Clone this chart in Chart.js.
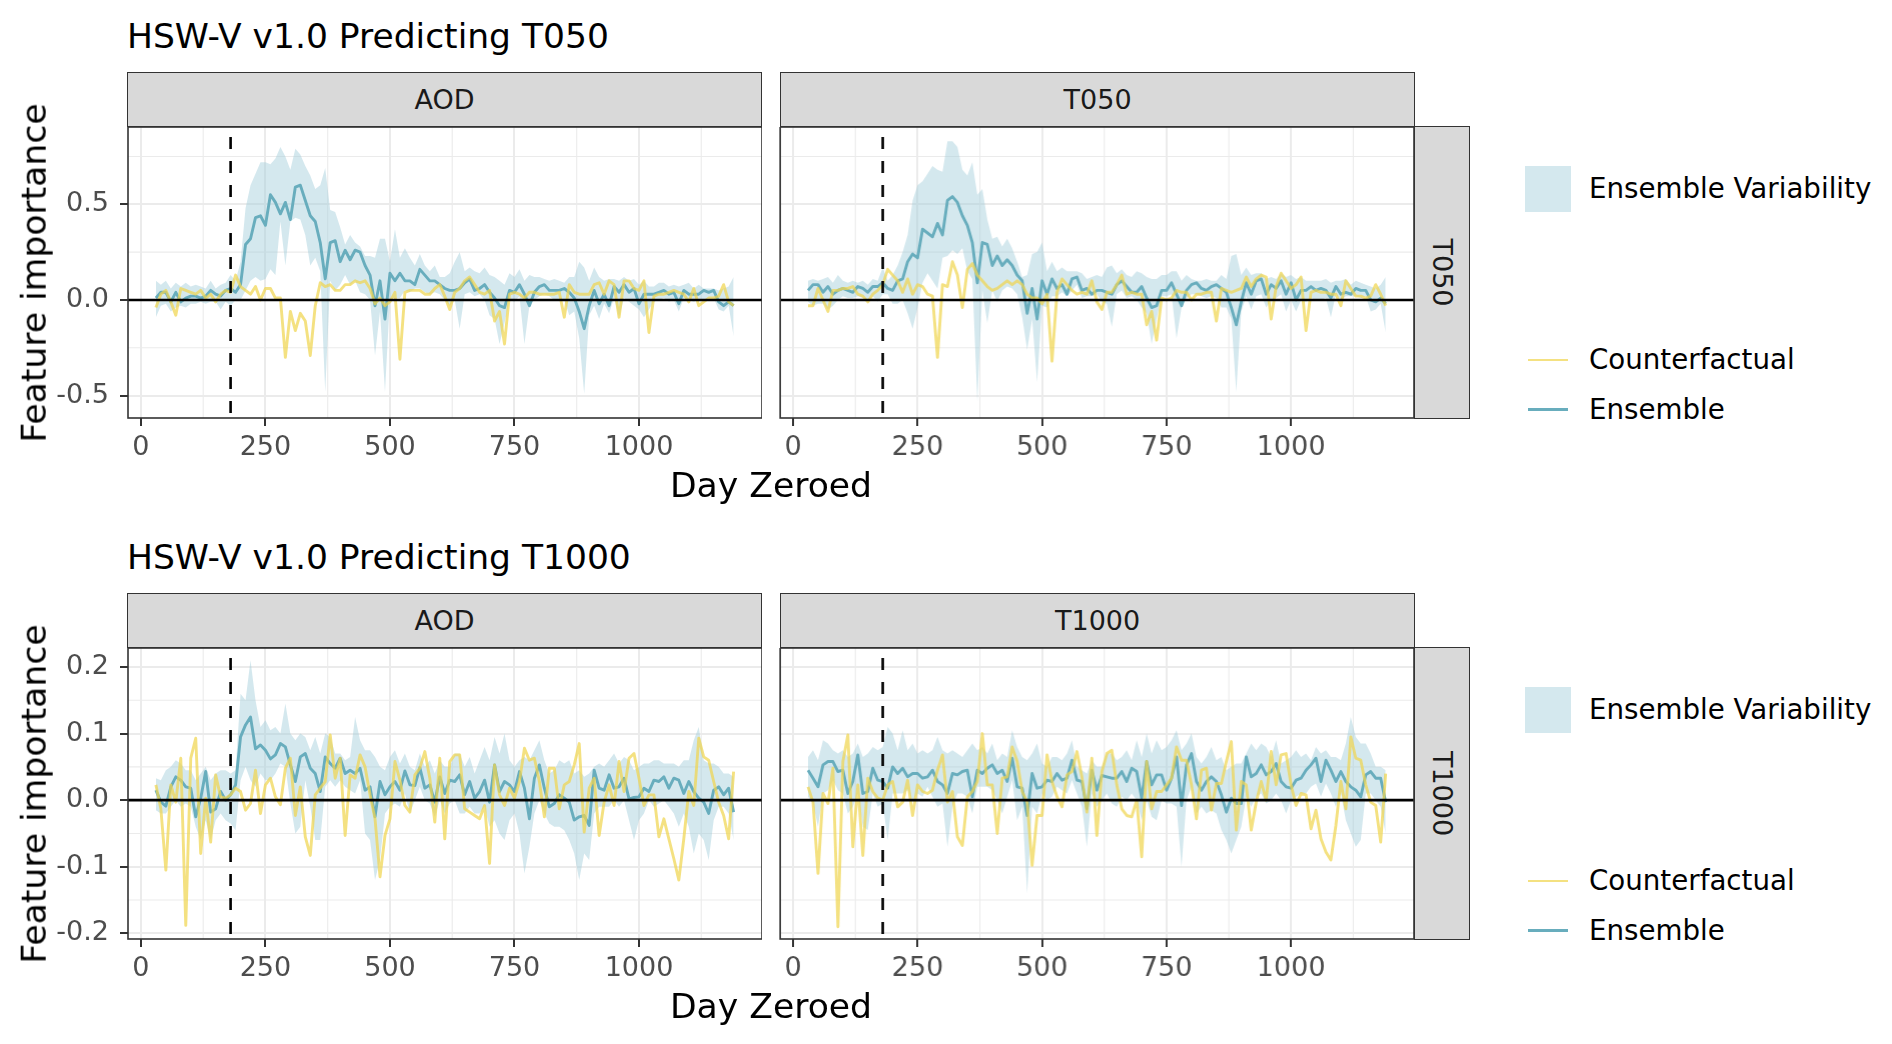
<!DOCTYPE html>
<html>
<head>
<meta charset="utf-8">
<script src="https://cdn.jsdelivr.net/npm/chart.js@4.4.1/dist/chart.umd.min.js"></script>
<style>
  body { margin: 0; width: 1892px; height: 1044px; background: #fff; position: relative; overflow: hidden; font-family: "DejaVu Sans", sans-serif; }
  .abs { position: absolute; }
  .title { font-size: 34.5px; line-height: 1; color: #000; white-space: nowrap; }
  .axis-title { font-size: 34.6px; line-height: 1; color: #000; white-space: nowrap; transform: translate(-50%, -50%); }
  .axis-title.rot { transform: translate(-50%, -50%) rotate(-90deg); }
  .strip { background: #d9d9d9; border: 1.6px solid #333; box-sizing: border-box; display: flex; align-items: center; justify-content: center; font-size: 27px; line-height: 1; color: #1a1a1a; }
  .strip.side span { display: inline-block; transform: rotate(90deg); white-space: nowrap; }
  .legend-text { font-size: 27.7px; line-height: 1; color: #000; white-space: nowrap; transform: translateY(-50%); }
</style>
</head>
<body>
<script>
// ---- data ----
const days = [
  30, 40, 50, 60, 70, 80, 90, 100, 110, 120,
  130, 140, 150, 160, 170, 180, 190, 200, 210, 220,
  230, 240, 250, 260, 270, 280, 290, 300, 310, 320,
  330, 340, 350, 360, 370, 380, 390, 400, 410, 420,
  430, 440, 450, 460, 470, 480, 490, 500, 510, 520,
  530, 540, 550, 560, 570, 580, 590, 600, 610, 620,
  630, 640, 650, 660, 670, 680, 690, 700, 710, 720,
  730, 740, 750, 760, 770, 780, 790, 800, 810, 820,
  830, 840, 850, 860, 870, 880, 890, 900, 910, 920,
  930, 940, 950, 960, 970, 980, 990, 1000, 1010, 1020,
  1030, 1040, 1050, 1060, 1070, 1080, 1090, 1100, 1110, 1120,
  1130, 1140, 1150, 1160, 1170, 1180, 1190
];
const cutoffDay = 180;

const xTicks = [0, 250, 500, 750, 1000];
const xMinorTicks = [125, 375, 625, 875, 1125];
const xLimits = [-26, 1247];

const t050Ticks = [-0.5, 0, 0.5];
const t050MinorTicks = [-0.25, 0.25, 0.75];
const t050Limits = [-0.617, 0.904];

const t1000Ticks = [-0.2, -0.1, 0, 0.1, 0.2];
const t1000MinorTicks = [-0.15, -0.05, 0.05, 0.15];
const t1000Limits = [-0.2085, 0.2285];

const seriesNames = ['Ensemble Variability', 'Counterfactual', 'Ensemble'];

// T050 target, AOD feature
const t050AodEns = [
  0.01, 0.04, 0.04, -0.01, 0.04, -0.01, 0.01, 0.02, 0.02, 0.01,
  0.02, 0.05, 0.03, 0.02, 0.05, 0.06, 0.04, 0.08, 0.29, 0.32,
  0.43, 0.44, 0.39, 0.55, 0.51, 0.45, 0.51, 0.42, 0.59, 0.60,
  0.52, 0.44, 0.41, 0.30, 0.11, 0.30, 0.31, 0.20, 0.26, 0.21,
  0.26, 0.25, 0.18, 0.13, -0.03, 0.10, -0.10, 0.14, 0.10, 0.14,
  0.10, 0.10, 0.08, 0.16, 0.13, 0.10, 0.10, 0.08, 0.06, 0.05,
  0.05, 0.06, 0.09, 0.11, 0.05, 0.06, 0.08, 0.04, 0.01, -0.03,
  -0.04, 0.05, 0.04, 0.08, 0.03, -0.03, 0.04, 0.07, 0.08, 0.05,
  0.05, 0.05, 0.06, 0.04, 0.01, -0.06, -0.15, -0.03, 0.05, -0.02,
  0.03, -0.03, 0.07, 0.04, 0.08, 0.04, 0.06, -0.02, 0.03, 0.03,
  0.03, 0.04, 0.05, 0.03, 0.04, -0.02, 0.05, 0.03, 0.03, 0.03,
  0.05, 0.04, 0.05, -0.01, -0.03, -0.01, -0.03
];
const t050AodHi = [
  0.10, 0.08, 0.10, 0.06, 0.09, 0.07, 0.09, 0.07, 0.08, 0.07,
  0.06, 0.10, 0.06, 0.08, 0.09, 0.13, 0.10, 0.20, 0.48, 0.60,
  0.66, 0.72, 0.72, 0.71, 0.74, 0.80, 0.75, 0.68, 0.79, 0.76,
  0.70, 0.65, 0.58, 0.60, 0.69, 0.47, 0.46, 0.38, 0.29, 0.34,
  0.30, 0.28, 0.23, 0.23, 0.22, 0.32, 0.32, 0.20, 0.37, 0.22,
  0.27, 0.22, 0.18, 0.24, 0.18, 0.15, 0.18, 0.12, 0.12, 0.14,
  0.20, 0.25, 0.15, 0.17, 0.15, 0.14, 0.17, 0.13, 0.12, 0.10,
  0.08, 0.14, 0.12, 0.16, 0.10, 0.13, 0.12, 0.12, 0.11, 0.10,
  0.11, 0.10, 0.09, 0.12, 0.12, 0.20, 0.17, 0.10, 0.17, 0.12,
  0.10, 0.11, 0.11, 0.10, 0.12, 0.10, 0.11, 0.08, 0.10, 0.07,
  0.07, 0.09, 0.09, 0.07, 0.08, 0.07, 0.08, 0.09, 0.06, 0.08,
  0.06, 0.06, 0.06, 0.05, 0.06, 0.07, 0.12
];
const t050AodLo = [
  -0.09, -0.03, -0.02, -0.06, -0.04, -0.03, -0.04, -0.02, -0.02, -0.01,
  -0.02, -0.01, -0.01, -0.05, -0.01, -0.03, 0.00, 0.00, 0.05, 0.10,
  0.12, 0.10, 0.11, 0.16, 0.13, 0.41, 0.18, 0.41, 0.43, 0.42,
  0.34, 0.18, 0.22, 0.15, -0.48, 0.10, 0.05, 0.08, 0.13, 0.08,
  0.10, 0.04, 0.03, 0.00, -0.29, -0.06, -0.48, 0.01, 0.01, 0.01,
  0.05, 0.04, 0.06, 0.06, 0.04, 0.03, 0.04, 0.03, 0.00, -0.03,
  0.00, -0.15, 0.03, 0.04, 0.02, 0.03, 0.00, -0.08, -0.10, -0.23,
  -0.12, 0.00, -0.01, 0.02, -0.23, -0.03, 0.00, 0.02, 0.03, 0.02,
  0.00, 0.00, 0.00, -0.08, -0.06, -0.20, -0.49, -0.08, -0.03, -0.10,
  -0.02, -0.07, 0.01, -0.09, 0.01, -0.01, -0.03, -0.05, -0.09, -0.05,
  -0.01, 0.00, 0.01, -0.01, 0.00, -0.06, 0.01, 0.00, -0.01, 0.00,
  0.00, 0.01, 0.01, -0.05, -0.06, -0.03, -0.19
];
const t050AodCf = [
  -0.04, 0.03, 0.05, -0.01, -0.08, 0.06, 0.05, 0.04, 0.03, 0.05,
  0.01, 0.03, -0.01, 0.03, 0.05, 0.04, 0.13, 0.07, 0.05, 0.03,
  0.07, 0.00, 0.06, 0.06, 0.01, 0.01, -0.30, -0.06, -0.16, -0.07,
  -0.11, -0.29, -0.03, 0.09, 0.07, 0.08, 0.05, 0.05, 0.08, 0.08,
  0.10, 0.09, 0.10, 0.06, -0.02, 0.01, -0.03, -0.01, 0.04, -0.31,
  0.04, 0.05, 0.05, 0.05, 0.03, 0.03, 0.06, 0.08, 0.02, -0.05,
  0.04, 0.06, 0.10, 0.12, 0.08, 0.04, 0.03, 0.05, -0.11, -0.06,
  -0.23, 0.03, 0.04, 0.03, 0.01, 0.04, 0.04, 0.03, 0.03, 0.03,
  0.03, 0.04, -0.09, 0.08, 0.04, 0.03, 0.03, 0.03, 0.08, 0.09,
  0.03, 0.10, 0.08, -0.09, 0.10, 0.10, 0.06, 0.05, 0.10, -0.17,
  0.02, 0.03, 0.03, 0.04, 0.05, 0.04, 0.03, -0.01, 0.06, -0.03,
  -0.01, 0.01, 0.01, 0.02, 0.08, -0.01, -0.03
];

// T050 target, T050 feature
const t050SelfEns = [
  0.05, 0.08, 0.08, 0.04, 0.07, 0.03, 0.05, 0.06, 0.05, 0.04,
  0.07, 0.06, 0.04, 0.07, 0.07, 0.09, 0.06, 0.05, 0.10, 0.11,
  0.20, 0.24, 0.22, 0.37, 0.35, 0.33, 0.40, 0.34, 0.52, 0.54,
  0.51, 0.44, 0.39, 0.30, 0.09, 0.30, 0.29, 0.18, 0.23, 0.18,
  0.21, 0.18, 0.13, 0.10, -0.07, 0.06, -0.10, 0.10, 0.03, 0.11,
  0.06, 0.08, 0.03, 0.11, 0.12, 0.05, 0.06, 0.03, 0.05, 0.05,
  0.04, 0.03, 0.08, 0.10, 0.07, 0.04, 0.04, 0.07, 0.01, -0.04,
  -0.03, 0.05, 0.05, 0.09, 0.03, -0.03, 0.05, 0.08, 0.09, 0.06,
  0.05, 0.07, 0.08, 0.06, 0.04, -0.04, -0.13, -0.01, 0.09, 0.03,
  0.10, 0.11, 0.03, 0.08, 0.06, 0.10, 0.03, 0.09, 0.00, 0.05,
  0.05, 0.07, 0.05, 0.06, 0.05, 0.01, 0.07, 0.03, 0.04, 0.03,
  0.06, 0.05, 0.05, 0.00, -0.01, 0.01, -0.02
];
const t050SelfHi = [
  0.10, 0.11, 0.10, 0.11, 0.12, 0.09, 0.13, 0.10, 0.09, 0.10,
  0.09, 0.10, 0.08, 0.11, 0.10, 0.17, 0.10, 0.13, 0.18, 0.25,
  0.34, 0.52, 0.60, 0.62, 0.66, 0.70, 0.68, 0.67, 0.83, 0.83,
  0.80, 0.68, 0.65, 0.72, 0.55, 0.58, 0.42, 0.32, 0.33, 0.28,
  0.32, 0.27, 0.20, 0.12, 0.13, 0.24, 0.25, 0.30, 0.15, 0.20,
  0.15, 0.17, 0.15, 0.15, 0.15, 0.14, 0.11, 0.12, 0.13, 0.12,
  0.17, 0.18, 0.14, 0.16, 0.13, 0.12, 0.15, 0.14, 0.12, 0.11,
  0.11, 0.13, 0.13, 0.15, 0.15, 0.10, 0.13, 0.11, 0.10, 0.10,
  0.11, 0.10, 0.10, 0.13, 0.11, 0.23, 0.24, 0.13, 0.17, 0.13,
  0.14, 0.14, 0.11, 0.12, 0.11, 0.14, 0.12, 0.13, 0.11, 0.12,
  0.10, 0.10, 0.10, 0.10, 0.11, 0.09, 0.10, 0.10, 0.11, 0.08,
  0.10, 0.09, 0.08, 0.07, 0.06, 0.08, 0.12
];
const t050SelfLo = [
  -0.01, -0.03, -0.02, -0.02, -0.05, -0.03, 0.00, 0.02, 0.01, 0.01,
  0.02, 0.01, 0.00, 0.02, -0.01, 0.03, 0.03, -0.02, -0.02, 0.00,
  -0.07, -0.15, -0.04, 0.09, 0.14, 0.10, 0.06, 0.22, 0.23, 0.26,
  0.24, 0.27, 0.15, 0.11, -0.53, 0.05, -0.12, 0.05, -0.01, 0.05,
  0.07, 0.06, 0.03, -0.09, -0.26, -0.10, -0.43, -0.03, -0.04, 0.02,
  0.02, 0.04, 0.02, 0.05, 0.08, 0.01, 0.02, 0.02, 0.03, -0.01,
  -0.02, -0.14, 0.03, 0.05, 0.01, 0.02, 0.00, -0.04, -0.07, -0.23,
  -0.10, 0.02, 0.02, 0.03, -0.20, -0.04, 0.01, 0.03, 0.03, 0.02,
  0.01, 0.02, 0.01, -0.04, -0.04, -0.10, -0.48, -0.06, 0.02, -0.05,
  0.02, 0.03, -0.04, 0.00, 0.01, 0.03, -0.06, 0.00, -0.06, 0.00,
  -0.01, 0.01, 0.00, 0.00, 0.01, -0.09, 0.03, 0.00, 0.02, 0.02,
  0.02, 0.01, 0.02, -0.06, -0.05, -0.02, -0.17
];
const t050SelfCf = [
  -0.03, -0.03, 0.06, 0.00, -0.06, 0.05, 0.05, 0.06, 0.06, 0.07,
  0.03, 0.02, -0.01, 0.03, 0.05, 0.08, 0.16, 0.13, 0.10, 0.04,
  0.11, 0.03, 0.08, 0.07, 0.03, 0.02, -0.30, 0.08, 0.07, 0.20,
  0.13, -0.04, 0.16, 0.19, 0.13, 0.10, 0.07, 0.05, 0.06, 0.08,
  0.10, 0.08, 0.10, 0.08, 0.03, 0.01, 0.01, -0.02, 0.03, -0.32,
  0.04, 0.11, 0.08, 0.05, 0.03, 0.04, 0.03, 0.10, -0.01, -0.05,
  0.04, 0.04, 0.08, 0.13, 0.03, 0.04, 0.03, 0.03, -0.13, -0.06,
  -0.21, 0.01, 0.00, 0.01, 0.05, 0.04, 0.04, 0.00, 0.03, 0.03,
  0.04, 0.04, -0.11, 0.06, 0.05, 0.04, 0.05, 0.06, 0.12, 0.07,
  0.11, 0.13, 0.12, -0.10, 0.07, 0.14, 0.10, 0.06, 0.08, 0.12,
  -0.16, 0.04, 0.05, 0.04, 0.04, 0.03, 0.03, -0.03, 0.10, 0.06,
  0.02, 0.02, 0.01, 0.02, 0.08, 0.03, -0.03
];

// T1000 target, AOD feature
const t1000AodEns = [
  0.015, -0.003, -0.009, 0.02, 0.035, 0.03, 0.02, 0.018, -0.025, 0.003,
  0.043, -0.018, -0.013, 0.013, 0.0, 0.008, 0.023, 0.095, 0.113, 0.125,
  0.077, 0.083, 0.075, 0.062, 0.068, 0.085, 0.08, 0.053, 0.028, 0.065,
  0.07, 0.048, 0.04, 0.013, 0.065, 0.055, 0.048, 0.063, 0.04, 0.045,
  0.04, 0.048, 0.015, 0.02, -0.025, 0.028, 0.008, 0.02, 0.028, 0.015,
  0.044, 0.023, 0.022, 0.049, 0.018, 0.023, -0.003, 0.035, 0.01, 0.03,
  0.028, 0.038, 0.008, 0.028, 0.003, 0.013, 0.03, -0.003, 0.053, 0.013,
  0.028, 0.023, 0.013, 0.043, 0.018, -0.028, 0.033, 0.053, 0.018, -0.01,
  -0.005, 0.008, 0.003, -0.003, -0.03, -0.025, -0.023, -0.038, 0.045, 0.018,
  0.015, 0.038, 0.018, 0.02, 0.033, 0.002, 0.004, 0.005, 0.018, 0.013,
  0.03, 0.028, 0.035, 0.018, 0.033, 0.03, 0.01, 0.028, 0.013, 0.003,
  -0.003, -0.02, 0.015, 0.02, 0.008, 0.018, -0.018
];
const t1000AodHi = [
  0.033, 0.03, 0.045, 0.05, 0.06, 0.055, 0.045, 0.045, 0.03, 0.04,
  0.05, 0.03, 0.04, 0.045, 0.045, 0.04, 0.045, 0.16, 0.15, 0.21,
  0.15, 0.11, 0.12, 0.105, 0.11, 0.10, 0.145, 0.10, 0.09, 0.10,
  0.095, 0.075, 0.095, 0.07, 0.10, 0.095, 0.07, 0.07, 0.06, 0.065,
  0.125, 0.09, 0.075, 0.075, 0.065, 0.05, 0.045, 0.065, 0.075, 0.055,
  0.07, 0.05, 0.045, 0.07, 0.05, 0.06, 0.04, 0.06, 0.05, 0.05,
  0.07, 0.07, 0.05, 0.065, 0.04, 0.06, 0.08, 0.06, 0.095, 0.07,
  0.10, 0.06, 0.05, 0.06, 0.065, 0.06, 0.075, 0.09, 0.06, 0.04,
  0.045, 0.06, 0.055, 0.06, 0.04, 0.045, 0.035, 0.04, 0.05, 0.055,
  0.05, 0.06, 0.07, 0.055, 0.065, 0.06, 0.045, 0.05, 0.055, 0.055,
  0.06, 0.06, 0.055, 0.055, 0.055, 0.05, 0.06, 0.06, 0.09, 0.11,
  0.06, 0.055, 0.055, 0.05, 0.04, 0.04, 0.035
];
const t1000AodLo = [
  -0.015, -0.02, -0.02, -0.01, 0.0, -0.01, -0.005, -0.01, -0.04, -0.06,
  -0.03, -0.06, -0.03, -0.02, -0.03, -0.035, -0.045, 0.03, 0.05, 0.03,
  0.02, 0.04, 0.03, 0.03, 0.04, 0.055, 0.05, -0.005, -0.05, -0.04,
  0.03, -0.01, -0.06, -0.06, 0.02, 0.03, 0.02, 0.03, 0.02, 0.015,
  0.01, 0.03, -0.05, -0.06, -0.12, -0.09, -0.02, -0.01, -0.005, -0.01,
  0.01, -0.02, 0.0, 0.02, 0.0, -0.005, -0.025, 0.0, -0.02, -0.005,
  0.0, -0.02, -0.02, -0.01, -0.02, -0.02, -0.01, -0.04, -0.03, -0.05,
  -0.06, -0.03, -0.02, -0.05, -0.11, -0.07, -0.02, 0.0, -0.02, -0.035,
  -0.04, -0.04, -0.045, -0.06, -0.08, -0.12, -0.08, -0.09, -0.02, -0.01,
  -0.01, -0.01, 0.0, -0.01, 0.0, -0.03, -0.06, -0.03, -0.02, 0.0,
  -0.01, -0.005, 0.0, -0.01, -0.02, -0.04, -0.02, -0.04, -0.08, -0.05,
  -0.06, -0.09, -0.03, -0.01, -0.01, -0.02, -0.06
];
const t1000AodCf = [
  0.023, -0.013, -0.105, 0.023, -0.003, 0.063, -0.188, 0.063, 0.093, -0.08,
  0.003, -0.063, 0.038, 0.005, 0.003, 0.008, 0.018, 0.013, -0.015, -0.005,
  0.045, -0.02, 0.023, 0.033, 0.005, -0.007, 0.048, 0.063, -0.023, 0.02,
  -0.055, -0.083, 0.008, 0.018, 0.028, 0.098, 0.033, 0.063, -0.053, 0.038,
  0.033, 0.068, 0.05, 0.008, -0.028, -0.115, -0.053, -0.028, 0.058, 0.03,
  -0.008, -0.018, 0.038, 0.048, 0.073, 0.033, -0.033, 0.063, -0.058, 0.058,
  0.068, 0.068, -0.013, -0.018, -0.023, -0.028, -0.008, -0.095, 0.053, 0.008,
  -0.008, 0.018, 0.003, 0.028, 0.078, 0.06, 0.063, 0.028, -0.025, 0.048,
  0.048, -0.013, 0.023, 0.028, 0.053, 0.085, -0.048, 0.018, 0.033, -0.053,
  -0.003, 0.023, -0.008, 0.058, 0.013, 0.063, 0.07, 0.033, -0.008, 0.008,
  0.008, -0.055, -0.028, -0.058, -0.088, -0.12, -0.058, 0.013, -0.008, 0.093,
  0.065, 0.06, 0.028, -0.003, -0.023, -0.058, 0.043
];

// T1000 target, T1000 feature
const t1000SelfEns = [
  0.045, 0.033, 0.02, 0.053, 0.058, 0.058, 0.043, 0.045, 0.01, 0.028,
  0.068, 0.01, 0.013, 0.048, 0.03, 0.028, 0.018, 0.05, 0.04, 0.048,
  0.035, 0.04, 0.04, 0.033, 0.035, 0.045, 0.028, 0.023, 0.01, 0.04,
  0.038, 0.043, 0.045, 0.005, 0.045, 0.04, 0.048, 0.053, 0.04, 0.045,
  0.028, 0.063, 0.02, 0.018, -0.023, 0.04, 0.018, 0.02, 0.03, 0.028,
  0.04, 0.03, 0.033, 0.06, 0.03, 0.028, -0.013, 0.045, 0.015, 0.037,
  0.035, 0.033, 0.033, 0.043, 0.028, 0.048, 0.043, 0.003, 0.058, 0.023,
  0.038, 0.038, 0.015, 0.033, 0.065, -0.008, 0.053, 0.07, 0.028, 0.015,
  0.028, 0.035, 0.028, 0.008, -0.018, 0.003, -0.005, -0.005, 0.065, 0.035,
  0.04, 0.053, 0.038, 0.043, 0.055, 0.028, 0.02, 0.018, 0.03, 0.033,
  0.045, 0.053, 0.063, 0.028, 0.06, 0.045, 0.028, 0.043, 0.028, 0.02,
  0.015, 0.005, 0.038, 0.043, 0.033, 0.033, -0.003
];
const t1000SelfHi = [
  0.065, 0.075, 0.06, 0.09, 0.085, 0.075, 0.07, 0.075, 0.065, 0.07,
  0.085, 0.065, 0.07, 0.08, 0.075, 0.08, 0.11, 0.1, 0.075, 0.105,
  0.075, 0.085, 0.07, 0.075, 0.07, 0.075, 0.095, 0.075, 0.07, 0.075,
  0.07, 0.065, 0.075, 0.085, 0.075, 0.08, 0.07, 0.085, 0.06, 0.07,
  0.065, 0.105, 0.08, 0.065, 0.06, 0.07, 0.085, 0.055, 0.05, 0.065,
  0.065, 0.06, 0.07, 0.09, 0.05, 0.045, 0.04, 0.06, 0.05, 0.05,
  0.07, 0.07, 0.06, 0.065, 0.075, 0.06, 0.09, 0.065, 0.1, 0.07,
  0.09, 0.075, 0.08, 0.09, 0.105, 0.075, 0.085, 0.1, 0.065, 0.055,
  0.065, 0.08, 0.06, 0.065, 0.045, 0.05, 0.055, 0.055, 0.07, 0.085,
  0.075, 0.085, 0.08, 0.065, 0.09, 0.055, 0.06, 0.065, 0.075, 0.065,
  0.07, 0.06, 0.08, 0.07, 0.075, 0.065, 0.065, 0.06, 0.085, 0.125,
  0.095, 0.085, 0.085, 0.07, 0.05, 0.05, 0.045
];
const t1000SelfLo = [
  0.005, -0.005, -0.04, 0.01, 0.015, 0.03, 0.015, 0.01, -0.02, -0.01,
  0.01, -0.04, -0.045, 0.01, -0.01, -0.005, -0.06, 0.01, 0.01, 0.01,
  0.015, 0.0, 0.01, 0.005, 0.02, 0.005, -0.01, -0.005, -0.07, -0.01,
  0.01, 0.01, 0.005, -0.02, 0.02, 0.02, 0.02, 0.015, 0.0, -0.02,
  0.005, 0.03, -0.03, -0.01, -0.14, -0.01, -0.02, 0.01, 0.0, 0.005,
  0.02, 0.015, 0.01, 0.03, 0.01, -0.01, -0.07, 0.01, -0.01, 0.0,
  0.01, -0.005, -0.01, 0.005, 0.0, 0.01, 0.0, -0.03, 0.0, -0.025,
  -0.03, 0.0, -0.005, -0.005, -0.01, -0.1, 0.0, 0.02, -0.02, -0.01,
  -0.02, -0.015, -0.02, -0.045, -0.06, -0.08, -0.06, -0.04, 0.005, -0.01,
  0.005, 0.01, -0.005, 0.0, 0.01, 0.0, -0.02, 0.0, 0.005, 0.01,
  0.01, 0.02, 0.025, 0.005, 0.025, 0.01, -0.01, 0.01, -0.03, -0.05,
  -0.07, -0.06, 0.01, 0.01, 0.0, -0.01, -0.05
];
const t1000SelfCf = [
  0.02, -0.003, -0.11, 0.01, -0.005, 0.048, -0.19, 0.058, 0.098, -0.07,
  0.023, -0.083, 0.033, 0.013, 0.003, 0.0, 0.023, 0.028, -0.01, -0.003,
  0.03, -0.023, 0.023, 0.013, 0.01, 0.015, 0.045, 0.068, -0.003, 0.013,
  -0.055, -0.068, 0.005, 0.013, 0.028, 0.1, 0.023, 0.023, -0.05, 0.033,
  0.035, 0.08, 0.058, 0.013, -0.003, -0.098, -0.023, -0.023, 0.068, 0.028,
  0.005, -0.01, 0.038, 0.043, 0.073, 0.035, -0.018, 0.063, -0.053, 0.043,
  0.07, 0.075, 0.023, -0.013, -0.023, -0.025, 0.0, -0.085, 0.058, -0.013,
  0.013, 0.013, 0.023, 0.033, 0.08, 0.06, 0.06, 0.023, -0.028, 0.045,
  0.048, -0.015, 0.025, 0.025, 0.058, 0.088, -0.045, 0.028, 0.023, -0.045,
  -0.003, 0.028, 0.0, 0.073, 0.023, 0.068, 0.07, 0.023, -0.008, 0.01,
  0.008, -0.043, -0.015, -0.058, -0.078, -0.09, -0.038, 0.028, -0.013, 0.095,
  0.063, 0.06, 0.023, -0.003, -0.008, -0.063, 0.04
];

// ---- styling ----
const FONT = 'DejaVu Sans';
const ENS_COLOR = '#68adbd';
const CF_COLOR = 'rgba(240, 214, 80, 0.72)';
const BAND_COLOR = 'rgba(160, 205, 218, 0.45)';
const LINE_W = 2.9;
const Y_AXIS_W = 100;
const X_AXIS_H = 64;

Chart.defaults.font.family = FONT;
Chart.defaults.animation = false;

const pts = arr => days.map((d, i) => ({ x: d, y: arr[i] }));

// minor grid under the data, panel frame on top
const panelDecor = {
  id: 'panelDecor',
  beforeDatasetsDraw(chart, args, opts) {
    const { ctx, chartArea: a, scales: { x, y } } = chart;
    ctx.save();
    ctx.strokeStyle = '#ebebeb';
    ctx.lineWidth = 1.1;
    ctx.beginPath();
    opts.xMinor.forEach(v => { const p = x.getPixelForValue(v); ctx.moveTo(p, a.top); ctx.lineTo(p, a.bottom); });
    opts.yMinor.forEach(v => { const p = y.getPixelForValue(v); ctx.moveTo(a.left, p); ctx.lineTo(a.right, p); });
    ctx.stroke();
    ctx.restore();
  },
  afterDraw(chart) {
    const { ctx, chartArea: a } = chart;
    ctx.save();
    ctx.strokeStyle = '#333333';
    ctx.lineWidth = 1.6;
    ctx.strokeRect(a.left, a.top, a.right - a.left, a.bottom - a.top);
    ctx.restore();
  }
};

function addDiv(cls, text, css) {
  const d = document.createElement('div');
  d.className = 'abs ' + cls;
  if (text !== null) d.innerHTML = text;
  Object.assign(d.style, css);
  document.body.appendChild(d);
  return d;
}

function makePanel(p) {
  const yW = p.leftAxis ? Y_AXIS_W : 0;
  const padTop = p.leftAxis ? 11 : 0;
  const w = yW + p.w, h = padTop + p.h + X_AXIS_H;
  const wrap = addDiv('', null, { left: (p.x - yW) + 'px', top: (p.y - padTop) + 'px', width: w + 'px', height: h + 'px' });
  const cv = document.createElement('canvas');
  cv.width = w; cv.height = h;
  cv.style.width = w + 'px'; cv.style.height = h + 'px';
  wrap.appendChild(cv);

  const [yMin, yMax] = p.limits;
  const chart = new Chart(cv, {
    type: 'line',
    data: {
      datasets: [
        { data: pts(p.hi), fill: '+1', backgroundColor: BAND_COLOR, borderColor: 'rgba(0,0,0,0)', borderWidth: 0, order: 5 },
        { data: pts(p.lo), fill: false, borderColor: 'rgba(0,0,0,0)', borderWidth: 0, order: 5 },
        { data: pts(p.ens), borderColor: ENS_COLOR, borderWidth: LINE_W, order: 3 },
        { data: pts(p.cf), borderColor: CF_COLOR, borderWidth: LINE_W, order: 2 },
        { data: [{ x: xLimits[0], y: 0 }, { x: xLimits[1], y: 0 }], borderColor: '#000', borderWidth: 2.6, order: 1 },
        { data: [{ x: cutoffDay, y: yMax }, { x: cutoffDay, y: yMin }], borderColor: '#000', borderWidth: 2.6,
          borderDash: [12, 12], borderDashOffset: 14, order: 1 }
      ]
    },
    options: {
      responsive: false,
      devicePixelRatio: 1,
      layout: { padding: 0 },
      elements: { point: { radius: 0, hoverRadius: 0 }, line: { tension: 0, borderJoinStyle: 'round' } },
      plugins: {
        legend: { display: false },
        tooltip: { enabled: false },
        panelDecor: { xMinor: xMinorTicks, yMinor: p.minor }
      },
      events: [],
      scales: {
        x: {
          type: 'linear', min: xLimits[0], max: xLimits[1],
          afterBuildTicks: s => { s.ticks = xTicks.map(v => ({ value: v })); },
          afterFit: s => { s.height = X_AXIS_H; },
          ticks: { font: { size: 27 }, color: '#4d4d4d', padding: 5.5, maxRotation: 0, autoSkip: false, callback: v => String(v) },
          grid: { color: '#ebebeb', lineWidth: 2, tickColor: '#333333', tickLength: 8, tickWidth: 2 },
          border: { display: false }
        },
        y: {
          type: 'linear', min: yMin, max: yMax,
          afterBuildTicks: s => { s.ticks = p.ticks.map(v => ({ value: v })); },
          afterFit: s => { s.width = yW; },
          ticks: { display: p.leftAxis, font: { size: 27, lineHeight: 0.001 }, color: '#4d4d4d', padding: 11, autoSkip: false,
                   callback: v => v.toFixed(1) },
          grid: { color: '#ebebeb', lineWidth: 2, drawTicks: p.leftAxis, tickColor: '#333333', tickLength: 8, tickWidth: 2 },
          border: { display: false }
        }
      }
    },
    plugins: [panelDecor]
  });
  // keep the plot area exactly on the target rectangle
  wrap.style.left = (p.x - chart.chartArea.left) + 'px';
  wrap.style.top = (p.y - chart.chartArea.top) + 'px';
  return chart;
}

// ---- layout ----
const ROW_OFFSET = 521;
const PANEL_W = 634.2, PANEL_H = 291.8;
const COL_X = [127.5, 780.5];
const ROW_Y = [126.7, 126.7 + ROW_OFFSET];

const rows = [
  { title: 'HSW-V v1.0 Predicting T050', target: 'T050', limits: t050Limits, ticks: t050Ticks, minor: t050MinorTicks,
    panels: [
      { strip: 'AOD', ens: t050AodEns, hi: t050AodHi, lo: t050AodLo, cf: t050AodCf },
      { strip: 'T050', ens: t050SelfEns, hi: t050SelfHi, lo: t050SelfLo, cf: t050SelfCf }
    ] },
  { title: 'HSW-V v1.0 Predicting T1000', target: 'T1000', limits: t1000Limits, ticks: t1000Ticks, minor: t1000MinorTicks,
    panels: [
      { strip: 'AOD', ens: t1000AodEns, hi: t1000AodHi, lo: t1000AodLo, cf: t1000AodCf },
      { strip: 'T1000', ens: t1000SelfEns, hi: t1000SelfHi, lo: t1000SelfLo, cf: t1000SelfCf }
    ] }
];

rows.forEach((row, r) => {
  const top = ROW_Y[r];
  const off = r * ROW_OFFSET;
  addDiv('title', row.title, { left: '127px', top: (18.5 + off) + 'px' });
  row.panels.forEach((pn, c) => {
    const left = COL_X[c];
    addDiv('strip', pn.strip, { left: (left - 0.8) + 'px', top: (71.7 + off) + 'px', width: (PANEL_W + 1.6) + 'px', height: (top - 71.7 - off + 0.8) + 'px' });
    makePanel({ x: left, y: top, w: PANEL_W, h: PANEL_H, leftAxis: c === 0, limits: row.limits, ticks: row.ticks, minor: row.minor,
                ens: pn.ens, hi: pn.hi, lo: pn.lo, cf: pn.cf });
  });
  const right = COL_X[1] + PANEL_W;
  addDiv('strip side', '<span>' + row.target + '</span>', { left: (right - 0.8) + 'px', top: (top - 0.8) + 'px', width: '56.6px', height: (PANEL_H + 1.6) + 'px' });
  addDiv('axis-title rot', 'Feature importance', { left: '34px', top: (top + PANEL_H / 2) + 'px' });
  addDiv('axis-title', 'Day Zeroed', { left: '771px', top: (485 + off) + 'px' });

  // legend
  addDiv('', null, { left: '1525px', top: (166 + off) + 'px', width: '46px', height: '46px', background: '#d4e8ee' });
  addDiv('legend-text', seriesNames[0], { left: '1589px', top: (189 + off) + 'px' });
  addDiv('', null, { left: '1528px', top: (358.5 + off) + 'px', width: '40px', height: '2.9px', background: CF_COLOR });
  addDiv('legend-text', seriesNames[1], { left: '1589px', top: (360 + off) + 'px' });
  addDiv('', null, { left: '1528px', top: (408 + off) + 'px', width: '40px', height: '2.9px', background: ENS_COLOR });
  addDiv('legend-text', seriesNames[2], { left: '1589px', top: (410 + off) + 'px' });
});
</script>
</body>
</html>
